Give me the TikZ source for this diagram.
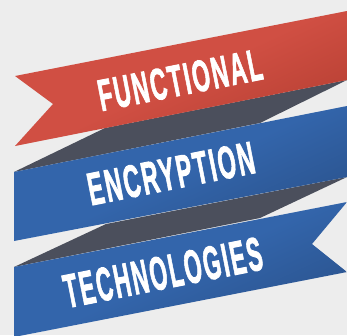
\documentclass[tikz,border=0pt]{standalone}
\usepackage{fontspec}
\usepackage{graphicx}
\newfontfamily\bandfont[FakeBold=2.2,LetterSpace=9]{Liberation Sans Bold}
\definecolor{bgc}{HTML}{EDEDED}
\definecolor{redL}{HTML}{D04F43}
\definecolor{redD}{HTML}{B63F32}
\definecolor{bluL}{HTML}{3365AB}
\definecolor{bluD}{HTML}{2A528C}
\definecolor{shadowc}{HTML}{4B4F5C}
\tikzset{
  x=1pt,y=-1pt,
  redband/.style={top color=redL,bottom color=redD,middle color=redL,shading angle=25},
  bluband/.style={top color=bluL,bottom color=bluD,middle color=bluL,shading angle=25},
  fold/.style={fill=shadowc},
  label/.style={text=white,inner sep=0pt,rotate=11.2}
}
\newcommand{\bt}[3]{\resizebox{#1pt}{#2pt}{\bandfont #3}}
\begin{document}
\begin{tikzpicture}
\useasboundingbox (0,0) rectangle (347,335);
\fill[bgc] (0,0) rectangle (347,335);
\fill[fold] (347,80) -- (105,128) -- (14,172) -- (260,123) -- cycle;
\fill[fold] (347,177) -- (106,224) -- (14,267) -- (260,218) -- cycle;
\shade[redband] (15,76) -- (347,11) -- (347,80) -- (15,146) -- (53,104) -- cycle;
\shade[bluband] (14,172) -- (347,106) -- (347,177) -- (14,241) -- cycle;
\shade[bluband] (14,267) -- (347,202) -- (312,244) -- (347,272) -- (14,337) -- cycle;
\node[label] (t1) at (180,80) {\bt{166}{31}{FUNCTIONAL}};
\node[label] (t2) at (171,173.5) {\bt{169}{32}{ENCRYPTION}};
\node[label] (t3) at (163,272.5) {\bt{201}{33}{TECHNOLOGIES}};
\end{tikzpicture}
\end{document}
